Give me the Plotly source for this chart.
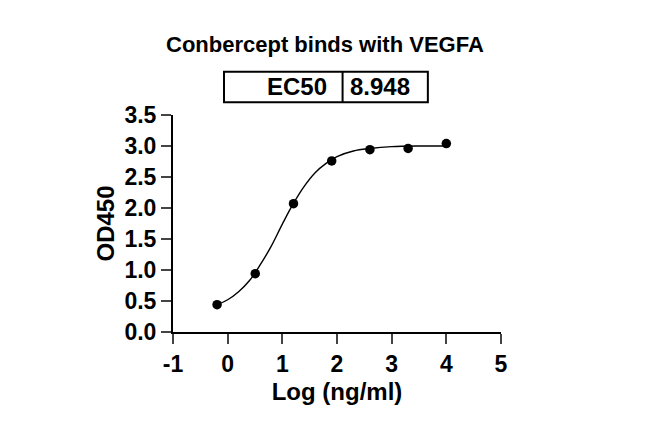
import plotly.graph_objects as go

# measured points (log concentration vs OD450)
log_conc = [-0.194, 0.505, 1.204, 1.903, 2.602, 3.301, 4.0]
od450 = [0.44, 0.94, 2.07, 2.76, 2.94, 2.96, 3.04]

# fitted curve
curve_x = [-0.19, 0.0, 0.2, 0.4, 0.6, 0.8, 1.0, 1.2, 1.4, 1.6, 1.8, 2.0, 2.3, 2.6, 3.0, 3.5, 4.0]
curve_y = [0.44, 0.52, 0.65, 0.83, 1.09, 1.39, 1.74, 2.07, 2.35, 2.57, 2.72, 2.83, 2.92, 2.96, 2.99, 3.0, 3.0]

x_ticks = [-1, 0, 1, 2, 3, 4, 5]
x_tick_labels = ["-1", "0", "1", "2", "3", "4", "5"]  # plain hyphen like the original
y_ticks = [0.0, 0.5, 1.0, 1.5, 2.0, 2.5, 3.0, 3.5]
y_tick_labels = ["0.0", "0.5", "1.0", "1.5", "2.0", "2.5", "3.0", "3.5"]

title = "Conbercept binds with VEGFA"
ec50_label = "EC50"
ec50_value = "8.948"

FONT = "Liberation Sans, Arial, sans-serif"

fig = go.Figure()
fig.add_trace(go.Scatter(x=curve_x, y=curve_y, mode="lines", line_shape="spline",
                         line=dict(color="black", width=1.4), hoverinfo="skip"))
fig.add_trace(go.Scatter(x=log_conc, y=od450, mode="markers",
                         marker=dict(color="black", size=9.5)))

# page is drawn with an 8px body offset, so margins are shifted by that
fig.update_layout(
    width=650, height=437,
    margin=dict(l=165, r=157, t=107, b=113),
    paper_bgcolor="white", plot_bgcolor="white",
    showlegend=False,
    font=dict(family=FONT, color="black"),
)
fig.update_xaxes(range=[-1, 5], tickvals=x_ticks, ticktext=x_tick_labels, ticks="outside",
                 ticklen=10, tickwidth=2,
                 showline=True, linewidth=2, linecolor="black", showgrid=False, zeroline=False,
                 tickfont=dict(size=23, weight="bold"),
                 title=dict(text="Log (ng/ml)", font=dict(size=24, weight="bold"), standoff=8))
fig.update_yaxes(range=[0, 3.5], tickvals=y_ticks, ticktext=y_tick_labels, ticks="outside",
                 ticklen=10, tickwidth=2, showline=True, linewidth=2, linecolor="black",
                 showgrid=False, zeroline=False,
                 tickfont=dict(size=23, weight="bold"),
                 title=dict(text="OD450", font=dict(size=24, weight="bold"), standoff=3))

# EC50 table above the plot
fig.add_shape(type="rect", xref="paper", yref="paper", x0=0.1555, x1=0.777, y0=1.0585, y1=1.1995,
              line=dict(color="black", width=2))
fig.add_shape(type="line", xref="paper", yref="paper", x0=0.517, x1=0.517, y0=1.0585, y1=1.1995,
              line=dict(color="black", width=2))
fig.add_annotation(xref="paper", yref="paper", x=0.4765, y=1.130, text=ec50_label, showarrow=False,
                   xanchor="right", yanchor="middle", font=dict(size=24, weight="bold"))
fig.add_annotation(xref="paper", yref="paper", x=0.5345, y=1.130, text=ec50_value, showarrow=False,
                   xanchor="left", yanchor="middle", font=dict(size=24, weight="bold"))
fig.add_annotation(xref="paper", yref="paper", x=0.463, y=1.3226, text=title, showarrow=False,
                   xanchor="center", yanchor="middle", font=dict(size=22, weight="bold"))

fig.write_html("out.html")
